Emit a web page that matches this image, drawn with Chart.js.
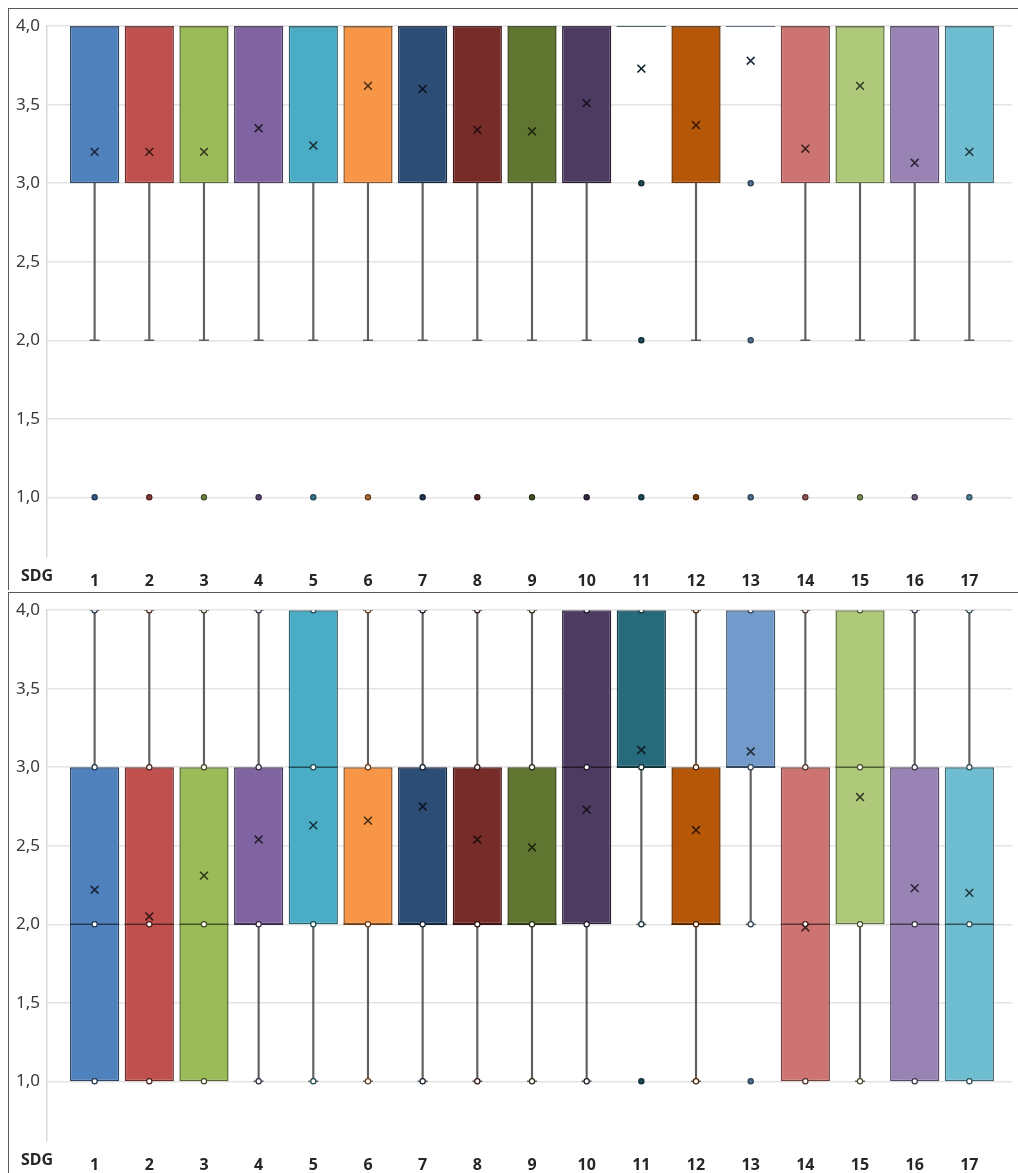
<!DOCTYPE html>
<html>
<head>
<meta charset="utf-8">
<script src="https://cdn.jsdelivr.net/npm/chart.js@4.4.1/dist/chart.umd.min.js"></script>
<style>
  body { margin: 0; background: #fff; width: 1018px; height: 1173px; position: relative; overflow: hidden; }
  .panel { position: absolute; left: 8px; width: 1010px; border-left: 1.5px solid #5a5a5a; border-top: 1.5px solid #5a5a5a; }
  #p1 { top: 8px; height: 581px; }
  #p2 { top: 592px; height: 580px; }
  canvas { display: block; }
</style>
</head>
<body>
<div class="panel" id="p1"><canvas id="topChart"></canvas></div>
<div class="panel" id="p2"><canvas id="bottomChart"></canvas></div>
<script>
// categories and colours
const sdg = [1, 2, 3, 4, 5, 6, 7, 8, 9, 10, 11, 12, 13, 14, 15, 16, 17];
const colors = ['#4f81bd', '#c0504d', '#9bbb59', '#8064a2', '#4bacc6', '#f79646', '#2c4d75', '#772c2a',
  '#5f7530', '#4d3b62', '#276a7c', '#b65708', '#729aca', '#cd7371', '#afc97a', '#9983b5', '#6fbdd1'];
const yTicks = [1, 1.5, 2, 2.5, 3, 3.5, 4];

// top panel
const topQ1 = [3, 3, 3, 3, 3, 3, 3, 3, 3, 3, 4, 3, 4, 3, 3, 3, 3];
const topQ3 = [4, 4, 4, 4, 4, 4, 4, 4, 4, 4, 4, 4, 4, 4, 4, 4, 4];
const topMedian = [4, 4, 4, 4, 4, 4, 4, 4, 4, 4, 4, 4, 4, 4, 4, 4, 4];
const topLow = [2, 2, 2, 2, 2, 2, 2, 2, 2, 2, 4, 2, 4, 2, 2, 2, 2];
const topHigh = [4, 4, 4, 4, 4, 4, 4, 4, 4, 4, 4, 4, 4, 4, 4, 4, 4];
const topMean = [3.20, 3.20, 3.20, 3.35, 3.24, 3.62, 3.60, 3.34, 3.33, 3.51, 3.73, 3.37, 3.78, 3.22, 3.62, 3.13, 3.20];
const topPoints = [[1], [1], [1], [1], [1], [1], [1], [1], [1], [1], [3, 2, 1], [1], [3, 2, 1], [1], [1], [1], [1]];

// bottom panel
const botQ1 = [1, 1, 1, 2, 2, 2, 2, 2, 2, 2, 3, 2, 3, 1, 2, 1, 1];
const botQ3 = [3, 3, 3, 3, 4, 3, 3, 3, 3, 4, 4, 3, 4, 3, 4, 3, 3];
const botMedian = [2, 2, 2, 2, 3, 2, 2, 2, 2, 3, 3, 2, 3, 2, 3, 2, 2];
const botLow = [1, 1, 1, 1, 1, 1, 1, 1, 1, 1, 2, 1, 2, 1, 1, 1, 1];
const botHigh = [4, 4, 4, 4, 4, 4, 4, 4, 4, 4, 4, 4, 4, 4, 4, 4, 4];
const botMean = [2.22, 2.05, 2.31, 2.54, 2.63, 2.66, 2.75, 2.54, 2.49, 2.73, 3.11, 2.60, 3.10, 1.98, 2.81, 2.23, 2.20];
const botPoints = [[1, 2, 3, 4], [1, 2, 3, 4], [1, 2, 3, 4], [1, 2, 3, 4], [1, 2, 3, 4], [1, 2, 3, 4],
  [1, 2, 3, 4], [1, 2, 3, 4], [1, 2, 3, 4], [1, 2, 3, 4], [1, 2, 3, 4], [1, 2, 3, 4], [1, 2, 3, 4],
  [1, 2, 3, 4], [1, 2, 3, 4], [1, 2, 3, 4], [1, 2, 3, 4]];
// values drawn as outliers (filled dots) in the bottom panel
const botOutliers = [[], [], [], [], [], [], [], [], [], [], [1], [], [1], [], [], [], []];

const dark = (hex, k) => {
  const n = parseInt(hex.slice(1), 16);
  const c = [(n >> 16) & 255, (n >> 8) & 255, n & 255].map(v => Math.round(v * (1 - k)));
  return `rgb(${c.join(',')})`;
};
const whiskerColor = '#5f5f5f';

const sdgLabel = {
  id: 'sdgLabel',
  afterDraw(chart) {
    const { ctx } = chart;
    ctx.save();
    ctx.font = 'bold 16px "Noto Sans"';
    ctx.fillStyle = '#262626';
    ctx.textAlign = 'center';
    ctx.textBaseline = 'middle';
    ctx.fillText('SDG', 28, chart.scales.x.top + 19);
    ctx.restore();
  },
};

const makeChart = (id, s, axisHeight, hollow) => {
  const caps = [];
  const whiskLow = [];
  const whiskHigh = [];
  sdg.forEach((x, i) => {
    if (s.low[i] < s.q1[i]) { whiskLow.push({ x, y: [s.low[i], s.q1[i]] }); caps.push({ x, y: s.low[i] }); }
    if (s.high[i] > s.q3[i]) { whiskHigh.push({ x, y: [s.q3[i], s.high[i]] }); caps.push({ x, y: s.high[i] }); }
  });
  const pts = [];
  s.points.forEach((list, i) => list.forEach(y => {
    const filled = !hollow || (s.outliers && s.outliers[i].includes(y));
    pts.push({ x: sdg[i], y, c: i, filled });
  }));
  const halfBox = ctx => {
    const sx = ctx.chart.scales.x;
    return (sx.getPixelForValue(2) - sx.getPixelForValue(1)) * 0.45;
  };

  return new Chart(document.getElementById(id), {
    type: 'bar',
    data: {
      datasets: [
        {
          data: sdg.map((x, i) => ({ x, y: [s.q1[i], s.q3[i]] })),
          backgroundColor: colors,
          borderColor: colors.map(c => dark(c, 0.45)),
          borderWidth: 1.5,
          borderSkipped: false,
          grouped: false,
          categoryPercentage: 1,
          barPercentage: 0.9,
          order: 5,
        },
        { data: whiskLow, backgroundColor: whiskerColor, barThickness: 1.5, grouped: false, order: 6 },
        { data: whiskHigh, backgroundColor: whiskerColor, barThickness: 1.5, grouped: false, order: 6 },
        {
          type: 'line', data: caps, showLine: false, pointStyle: 'line', pointRadius: 5,
          pointBorderWidth: 1.5, pointBorderColor: whiskerColor, order: 4,
        },
        {
          type: 'line', data: sdg.map((x, i) => ({ x, y: s.median[i] })), showLine: false,
          pointStyle: 'line', pointRadius: halfBox, pointBorderWidth: 1.6,
          pointBorderColor: colors.map(c => dark(c, 0.55)), order: 3,
        },
        {
          type: 'line', data: pts, showLine: false, pointRadius: 2.6, pointBorderWidth: 1.2,
          pointBackgroundColor: ctx => (ctx.raw.filled ? dark(colors[ctx.raw.c], 0.3) : '#ffffff'),
          pointBorderColor: ctx => dark(colors[ctx.raw.c], 0.6), order: 2,
        },
        {
          type: 'line', data: sdg.map((x, i) => ({ x, y: s.mean[i] })), showLine: false,
          pointStyle: 'crossRot', pointRadius: 5.5, pointBorderWidth: 1.6,
          pointBorderColor: colors.map(c => dark(c, 0.7)), order: 1,
        },
      ],
    },
    options: {
      responsive: true,
      maintainAspectRatio: false,
      animation: false,
      events: [],
      layout: { padding: { top: 17, right: 0, left: 0, bottom: 0 } },
      plugins: { legend: { display: false }, tooltip: { enabled: false } },
      scales: {
        x: {
          type: 'linear',
          offset: false,
          min: 0.129,
          max: 17.778,
          afterBuildTicks: scale => { scale.ticks = sdg.map(value => ({ value })); },
          afterFit: scale => { scale.height = axisHeight; },
          grid: { display: false },
          border: { display: false },
          ticks: {
            padding: 7,
            color: '#262626',
            font: { family: 'Noto Sans', size: 16, weight: 'bold' },
            callback: v => String(v),
          },
        },
        y: {
          min: 0.62,
          max: 4,
          afterBuildTicks: scale => { scale.ticks = yTicks.map(value => ({ value })); },
          afterFit: scale => { scale.width = 38; },
          grid: { color: '#e4e4e4', lineWidth: 1.5, drawTicks: false },
          border: { color: '#d9d9d9', width: 1.5 },
          ticks: {
            padding: 7,
            color: '#3a3a3a',
            font: { family: 'Noto Sans', size: 17 },
            callback: v => v.toFixed(1).replace('.', ','),
          },
        },
      },
    },
    plugins: [sdgLabel],
  });
};

makeChart('topChart', {
  q1: topQ1, q3: topQ3, median: topMedian, low: topLow, high: topHigh, mean: topMean, points: topPoints,
}, 33, false);
makeChart('bottomChart', {
  q1: botQ1, q3: botQ3, median: botMedian, low: botLow, high: botHigh, mean: botMean, points: botPoints,
  outliers: botOutliers,
}, 32, true);
</script>
</body>
</html>
